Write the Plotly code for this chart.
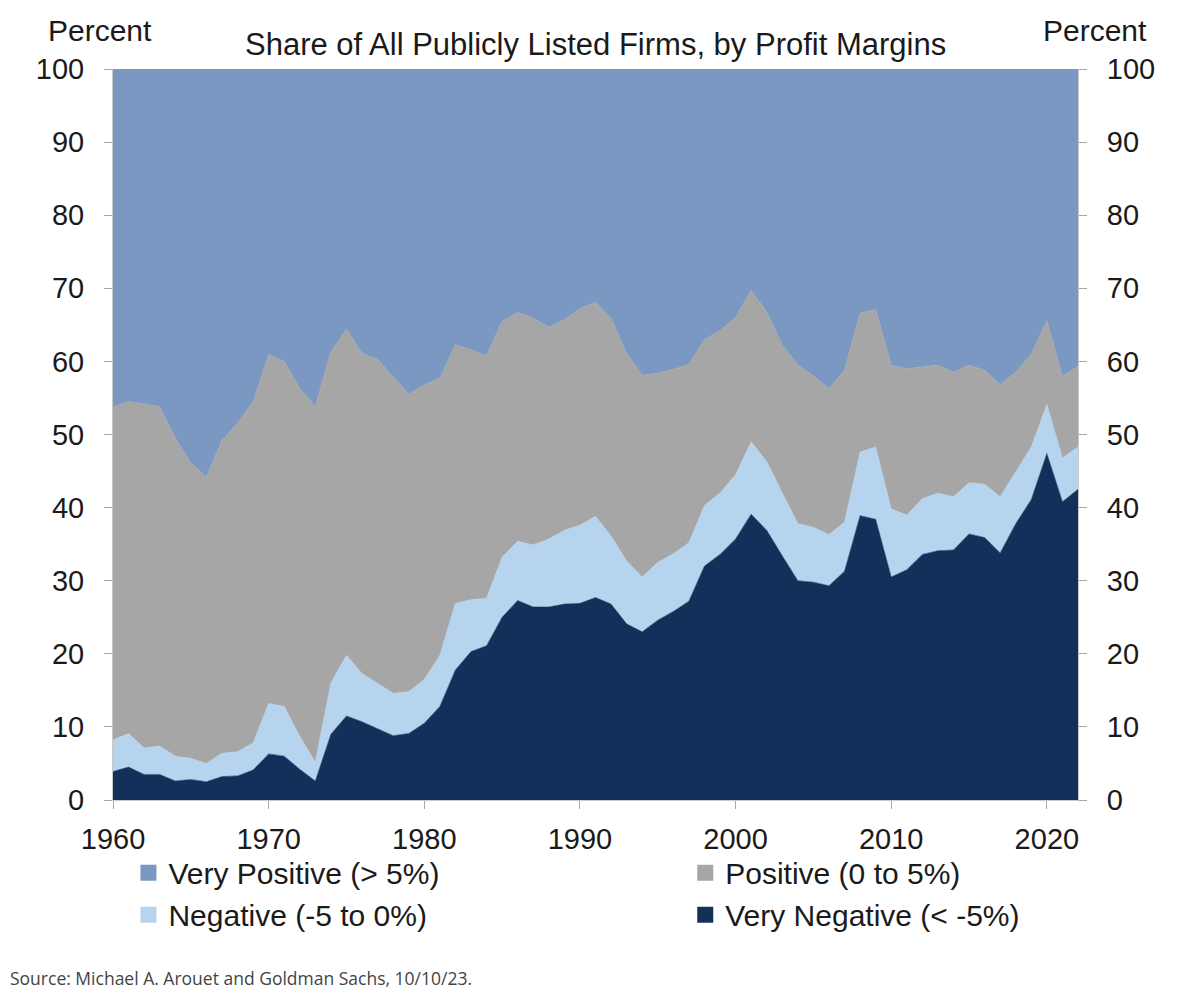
import plotly.graph_objects as go

# ---------------- data ----------------
years = list(range(1960, 2023))

very_negative = [3.9, 4.5, 3.5, 3.5, 2.6, 2.8, 2.5, 3.2, 3.3, 4.1,
                 6.3, 6.0, 4.2, 2.6, 9.0, 11.5, 10.7, 9.7, 8.8, 9.1,
                 10.5, 12.8, 17.8, 20.3, 21.1, 25.0, 27.3, 26.4, 26.4, 26.8,
                 26.9, 27.7, 26.8, 24.1, 23.0, 24.6, 25.8, 27.2, 32.0, 33.6,
                 35.7, 39.1, 36.9, 33.4, 30.0, 29.8, 29.3, 31.3, 38.9, 38.4,
                 30.5, 31.5, 33.6, 34.1, 34.2, 36.4, 35.9, 33.8, 37.8, 41.1,
                 47.4, 40.8, 42.5]

negative = [4.3, 4.6, 3.6, 3.9, 3.4, 2.9, 2.5, 3.2, 3.3, 3.7,
            6.9, 6.8, 4.5, 2.6, 7.0, 8.3, 6.6, 6.3, 5.8, 5.7,
            6.0, 7.0, 9.1, 7.1, 6.5, 8.2, 8.1, 8.5, 9.3, 10.1,
            10.7, 11.1, 9.3, 8.6, 7.5, 7.9, 7.9, 8.0, 8.3, 8.4,
            8.8, 9.9, 9.4, 8.6, 7.8, 7.5, 7.0, 6.7, 8.7, 9.9,
            9.3, 7.5, 7.6, 7.9, 7.3, 7.0, 7.3, 7.7, 7.1, 7.2,
            6.7, 6.0, 5.8]

positive = [45.6, 45.4, 47.1, 46.4, 43.5, 40.4, 39.2, 42.8, 44.9, 46.7,
            47.7, 47.2, 47.6, 48.6, 45.3, 44.6, 43.8, 44.3, 43.3, 40.7,
            40.3, 37.9, 35.4, 34.2, 33.2, 32.3, 31.3, 31.0, 29.0, 28.8,
            29.6, 29.3, 29.8, 28.4, 27.6, 25.9, 25.2, 24.4, 22.7, 22.2,
            21.5, 20.7, 20.5, 20.2, 21.7, 20.7, 20.0, 20.8, 19.0, 18.8,
            19.7, 20.0, 18.1, 17.5, 17.0, 16.1, 15.6, 15.3, 13.6, 12.7,
            11.5, 11.2, 11.0]

very_positive = [46.2, 45.5, 45.8, 46.2, 50.5, 53.9, 55.8, 50.8, 48.5, 45.5,
                 39.1, 40.0, 43.7, 46.2, 38.7, 35.6, 38.9, 39.7, 42.1, 44.5,
                 43.2, 42.3, 37.7, 38.4, 39.2, 34.5, 33.3, 34.1, 35.3, 34.3,
                 32.8, 31.9, 34.1, 38.9, 41.9, 41.6, 41.1, 40.4, 37.0, 35.8,
                 34.0, 30.3, 33.2, 37.8, 40.5, 42.0, 43.7, 41.2, 33.4, 32.9,
                 40.5, 41.0, 40.7, 40.5, 41.5, 40.5, 41.2, 43.2, 41.5, 39.0,
                 34.4, 42.0, 40.7]

series_names = ["Very Negative (< -5%)", "Negative (-5 to 0%)",
                "Positive (0 to 5%)", "Very Positive (> 5%)"]
series_values = [very_negative, negative, positive, very_positive]
colors = ["#13305b", "#b6d4ee", "#a6a6a6", "#7b98c3"]

x_ticks = [1960, 1970, 1980, 1990, 2000, 2010, 2020]
y_ticks = [0, 10, 20, 30, 40, 50, 60, 70, 80, 90, 100]

title_text = "Share of All Publicly Listed Firms, by Profit Margins"
source_text = "Source: Michael A. Arouet and Goldman Sachs, 10/10/23."

FONT = "Liberation Sans, Arial, sans-serif"
TXT = "#1a1a1a"

# ---------------- figure ----------------
fig = go.Figure()

for name, vals, col in zip(series_names, series_values, colors):
    fig.add_trace(go.Scatter(
        x=years, y=vals, name=name, stackgroup="one", mode="lines",
        line=dict(width=0.6, color=col), fillcolor=col, showlegend=False,
    ))

# legend entries (two columns -> two legends)
legend_plan = [("legend", 3), ("legend", 1), ("legend2", 2), ("legend2", 0)]
for lg, i in legend_plan:
    fig.add_trace(go.Scatter(
        x=[None], y=[None], mode="markers", name=series_names[i],
        marker=dict(symbol="square", size=16, color=colors[i]),
        legend=lg, showlegend=True, hoverinfo="skip",
    ))

# invisible trace to activate right axis
fig.add_trace(go.Scatter(
    x=[years[0]], y=[0], yaxis="y2", mode="markers",
    marker=dict(opacity=0), showlegend=False, hoverinfo="skip",
))

axis_common = dict(
    showgrid=False, zeroline=False, ticks="outside", ticklen=8, tickwidth=1,
    tickcolor="#a6a6a6", showline=True, linecolor="#c8c8c8", linewidth=1,
    tickfont=dict(family=FONT, size=29, color=TXT),
)

legend_font = dict(family=FONT, size=30, color=TXT)

fig.update_layout(
    width=1192, height=994,
    margin=dict(l=105, r=122, t=61, b=202, autoexpand=False),
    paper_bgcolor="white", plot_bgcolor="white",
    font=dict(family=FONT, color=TXT),
    xaxis=dict(range=[1960, 2022], tickvals=x_ticks, ticklabelstandoff=5,
               **axis_common),
    yaxis=dict(range=[0, 100], tickvals=y_ticks, ticklabelstandoff=14,
               **axis_common),
    yaxis2=dict(range=[0, 100], tickvals=y_ticks, overlaying="y", side="right",
                ticklabelstandoff=14, **axis_common),
    legend=dict(x=0.016, y=-0.064, xanchor="left", yanchor="top",
                orientation="v", traceorder="normal", bgcolor="rgba(0,0,0,0)",
                font=legend_font, tracegroupgap=0, itemwidth=30),
    legend2=dict(x=0.593, y=-0.064, xanchor="left", yanchor="top",
                 orientation="v", traceorder="normal", bgcolor="rgba(0,0,0,0)",
                 font=legend_font, tracegroupgap=0, itemwidth=30),
    annotations=[
        dict(text=title_text, xref="paper", yref="paper", x=0.5, y=1.033,
             xanchor="center", yanchor="middle", showarrow=False,
             font=dict(family=FONT, size=31, color=TXT)),
        dict(text="Percent", xref="paper", yref="paper", x=-0.0135, y=1.053,
             xanchor="center", yanchor="middle", showarrow=False,
             font=dict(family=FONT, size=30, color=TXT)),
        dict(text="Percent", xref="paper", yref="paper", x=1.018, y=1.053,
             xanchor="center", yanchor="middle", showarrow=False,
             font=dict(family=FONT, size=30, color=TXT)),
        dict(text=source_text, xref="paper", yref="paper", x=-0.109, y=-0.2435,
             xanchor="left", yanchor="middle", showarrow=False,
             font=dict(family="Open Sans, sans-serif", size=17.5, color="#444444")),
    ],
)

fig.write_html("out.html")
